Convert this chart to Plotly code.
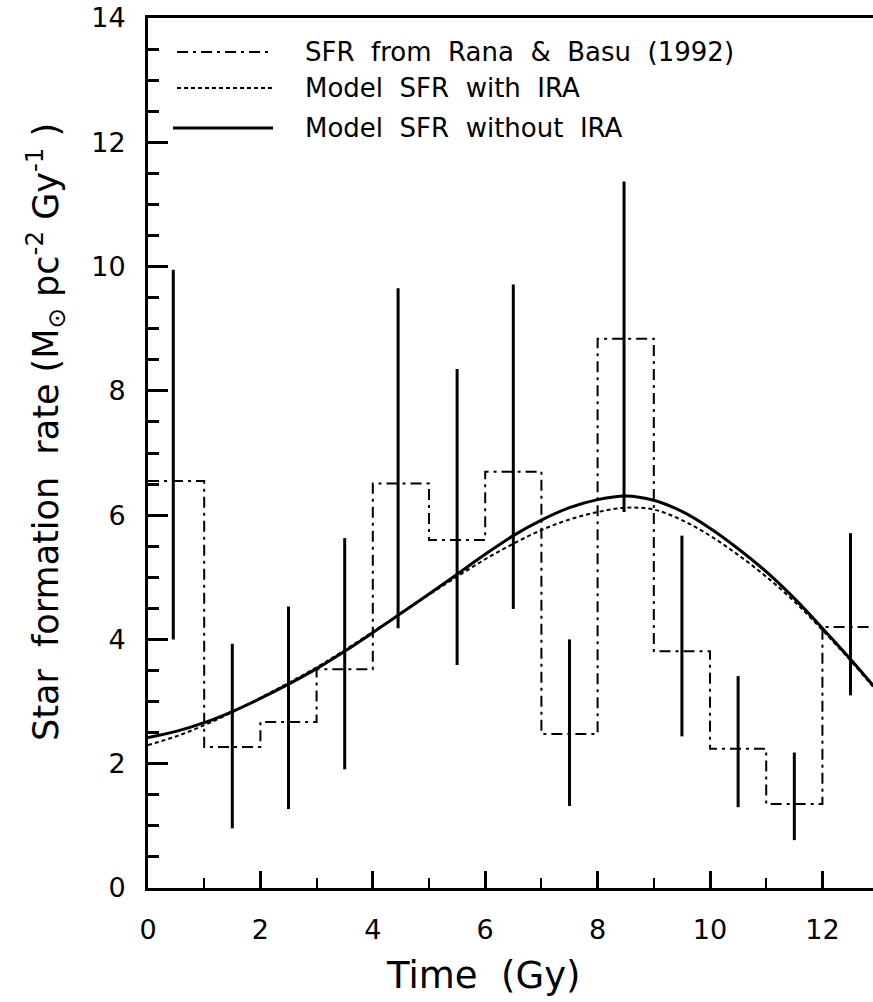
import plotly.graph_objects as go

# ---------------- data ----------------
bin_edges = [0, 1, 2, 3, 4, 5, 6, 7, 8, 9, 10, 11, 12, 13]
sfr_rana_basu = [6.55, 2.27, 2.67, 3.52, 6.51, 5.60, 6.70, 2.48, 8.84, 3.81, 2.24, 1.35, 4.20]

err_x = [0.45, 1.5, 2.5, 3.5, 4.45, 5.5, 6.5, 7.5, 8.47, 9.5, 10.5, 11.5, 12.5]
err_lo = [4.00, 0.96, 1.27, 1.91, 4.18, 3.59, 4.49, 1.32, 6.05, 2.44, 1.30, 0.77, 3.10]
err_hi = [9.95, 3.93, 4.53, 5.63, 9.65, 8.35, 9.71, 4.00, 11.37, 5.67, 3.41, 2.18, 5.71]

model_t = [0, 0.5, 1, 1.5, 2, 2.5, 3, 3.5, 4, 4.5, 5, 5.5, 6, 6.5, 7, 7.5, 8, 8.5,
           9, 9.5, 10, 10.5, 11, 11.5, 12, 12.5, 12.9]
sfr_without_ira = [2.42, 2.52, 2.66, 2.84, 3.05, 3.28, 3.53, 3.81, 4.11, 4.42, 4.73, 5.05,
                   5.37, 5.67, 5.92, 6.12, 6.25, 6.31, 6.24, 6.06, 5.79, 5.46, 5.09, 4.66,
                   4.18, 3.68, 3.26]
sfr_with_ira = [2.30, 2.44, 2.62, 2.83, 3.06, 3.30, 3.55, 3.83, 4.12, 4.42, 4.72, 5.01,
                5.29, 5.54, 5.76, 5.93, 6.05, 6.12, 6.09, 5.92, 5.67, 5.36, 5.01, 4.61,
                4.15, 3.66, 3.24]

legend_labels = ["SFR\u00a0 from\u00a0 Rana\u00a0 &\u00a0 Basu\u00a0 (1992)",
                 "Model\u00a0 SFR\u00a0 with\u00a0 IRA",
                 "Model\u00a0 SFR\u00a0 without\u00a0 IRA"]

x_ticks = [0, 2, 4, 6, 8, 10, 12]
y_ticks = [0, 2, 4, 6, 8, 10, 12, 14]

FONT = "DejaVu Sans"
DASHDOT = "11px,5px,3px,5px"
DOTTED = "4px,3px"

fig = go.Figure()

# histogram (Rana & Basu)
fig.add_trace(go.Scatter(
    x=bin_edges, y=sfr_rana_basu + [sfr_rana_basu[-1]],
    mode="lines", line=dict(shape="hv", color="black", width=2, dash=DASHDOT),
    showlegend=False, hoverinfo="skip"))

# error bars as vertical segments
ex, ey = [], []
for xc, lo, hi in zip(err_x, err_lo, err_hi):
    ex += [xc, xc, None]
    ey += [lo, hi, None]
fig.add_trace(go.Scatter(x=ex, y=ey, mode="lines",
                         line=dict(color="black", width=3), showlegend=False))

# model curves
fig.add_trace(go.Scatter(x=model_t, y=sfr_with_ira, mode="lines",
                         line=dict(color="black", width=2, dash=DOTTED, shape="spline",
                                   smoothing=1.0),
                         showlegend=False))
fig.add_trace(go.Scatter(x=model_t, y=sfr_without_ira, mode="lines",
                         line=dict(color="black", width=3, shape="spline", smoothing=1.0),
                         showlegend=False))

# -------- manual legend (paper coords) --------
L, T, B = 148, 18, 888
W, H = 873 - L, B - T


def px(xp):
    return (xp - L) / W


def py(yp):
    return (B - yp) / H


legend_rows = [(52, 177, DASHDOT, 2), (88, 177, DOTTED, 2), (128, 173, "solid", 3)]
for (yy, x0, dash, w), lab in zip(legend_rows, legend_labels):
    fig.add_shape(type="line", xref="paper", yref="paper",
                  x0=px(x0), x1=px(273), y0=py(yy), y1=py(yy),
                  line=dict(color="black", width=w, dash=dash))
    fig.add_annotation(xref="paper", yref="paper", x=px(303), y=py(yy),
                       xanchor="left", yanchor="middle", showarrow=False,
                       text=lab, font=dict(family=FONT, size=26, color="black"))

# axis titles
fig.add_annotation(xref="paper", yref="paper", x=px(483), y=py(975),
                   xanchor="center", yanchor="middle", showarrow=False,
                   text="Time\u00a0 (Gy)", font=dict(family=FONT, size=37, color="black"))
fig.add_annotation(xref="paper", yref="paper", x=px(46), y=py(432),
                   xanchor="center", yanchor="middle", showarrow=False, textangle=-90,
                   text="Star\u00a0 formation\u00a0 rate\u00a0(M<sub>\u2299</sub>\u00a0pc<sup>-2</sup>\u00a0Gy<sup>-1</sup>\u00a0)",
                   font=dict(family=FONT, size=35, color="black"))

fig.update_layout(
    width=873, height=1002,
    margin=dict(l=L, r=0, t=T, b=1002 - B, pad=0),
    paper_bgcolor="white", plot_bgcolor="white",
    font=dict(family=FONT, color="black"),
    showlegend=False,
    xaxis=dict(range=[0, 12.9], showgrid=False, zeroline=False,
               showline=True, linecolor="black", linewidth=3, mirror=True,
               tickmode="array", tickvals=x_ticks, ticktext=[str(v) for v in x_ticks],
               ticks="inside", ticklen=17, tickwidth=3, tickcolor="black",
               tickfont=dict(family=FONT, size=27, color="black"),
               ticklabelstandoff=16,
               minor=dict(dtick=1, tick0=0, ticks="inside", ticklen=10,
                          tickwidth=2, tickcolor="black", showgrid=False)),
    yaxis=dict(range=[0, 14], showgrid=False, zeroline=False,
               showline=True, linecolor="black", linewidth=3, mirror=False,
               tickmode="array", tickvals=y_ticks, ticktext=[str(v) for v in y_ticks],
               ticks="inside", ticklen=20, tickwidth=3, tickcolor="black",
               tickfont=dict(family=FONT, size=27, color="black"),
               ticklabelstandoff=14,
               minor=dict(dtick=0.5, tick0=0, ticks="inside", ticklen=11,
                          tickwidth=3, tickcolor="black", showgrid=False)),
)

fig.write_html("out.html")
